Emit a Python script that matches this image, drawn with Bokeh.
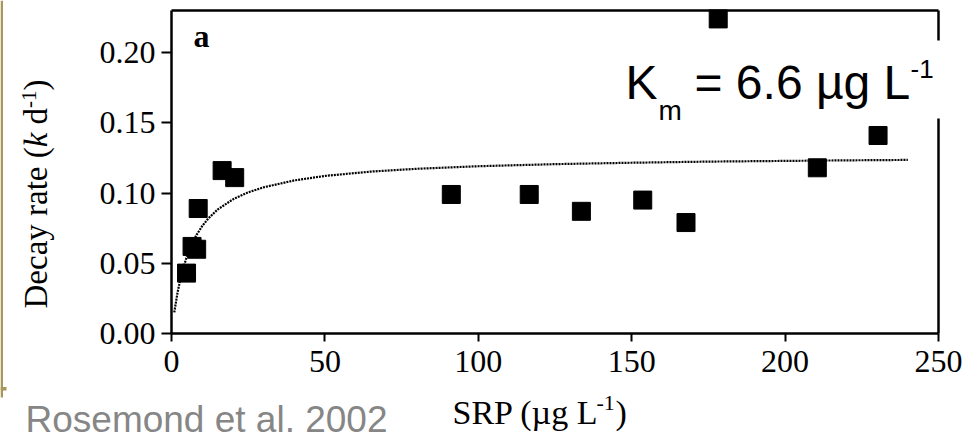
import math
from bokeh.plotting import figure
from bokeh.models import (FixedTicker, NumeralTickFormatter, Label, BoxAnnotation,
                          ColumnDataSource, LinearAxis)
from bokeh.embed import file_html
from bokeh.resources import INLINE

# ---- data ----
srp = [4.9, 6.7, 8.2, 8.7, 16.5, 20.6, 91.2, 116.6, 133.6, 153.6, 167.7, 178.2, 210.5, 230.3]
decay = [0.043, 0.062, 0.060, 0.089, 0.116, 0.111, 0.099, 0.099, 0.087, 0.095, 0.079, 0.224, 0.118, 0.141]

fit_x = [0.9, 2, 3, 4, 5, 6.5, 8, 10, 12, 15, 20, 25, 30, 40, 50, 65, 80, 100, 125, 150, 175, 200, 220, 240]
fit_y = [0.0150, 0.0295, 0.0397, 0.0479, 0.0547, 0.0630, 0.0696, 0.0765, 0.0819, 0.0882, 0.0955,
         0.1005, 0.1041, 0.1090, 0.1122, 0.1153, 0.1173, 0.1191, 0.1206, 0.1216, 0.1224, 0.1229,
         0.1233, 0.1236]

x_ticks = [0, 50, 100, 150, 200, 250]
y_ticks = [0.0, 0.05, 0.10, 0.15, 0.20]
XMAX, YMAX = 250.0, 0.23

# ---- layout (pixel positions of the chart box on the slide) ----
W, H = 969, 443
FL, FR, FT, FB = 171, 938, 10, 333

def X(px):
    return (px - FL) * XMAX / (FR - FL)

def Y(py):
    return (FB - py) * YMAX / (FB - FT)

p = figure(width=W, height=H, output_backend="svg", toolbar_location=None,
           x_range=(X(0), X(W)), y_range=(Y(H), Y(0)),
           x_axis_location=None, y_axis_location=None, min_border=0)
p.background_fill_color = "white"
p.border_fill_color = "white"
p.outline_line_color = None
p.xgrid.visible = False
p.ygrid.visible = False

serif = "Liberation Serif"
sans = "Liberation Sans"

def style_axis(ax, ticks, tick_out, standoff):
    ax.ticker = FixedTicker(ticks=ticks)
    ax.axis_line_width = 2.5
    ax.axis_line_color = "black"
    ax.major_tick_line_width = 2
    ax.major_tick_line_color = "black" if ticks else None
    ax.major_tick_in = 0
    ax.major_tick_out = tick_out
    ax.minor_tick_line_color = None
    ax.major_label_text_font = serif
    ax.major_label_text_font_size = "32px"
    ax.major_label_text_color = "black"
    ax.major_label_standoff = standoff

xax = LinearAxis(fixed_location=0, bounds=(0, XMAX))
style_axis(xax, x_ticks, 8, 9)
p.add_layout(xax, "below")

yax = LinearAxis(fixed_location=0, bounds=(0, YMAX))
style_axis(yax, y_ticks, 10, 6)
yax.formatter = NumeralTickFormatter(format="0.00")
p.add_layout(yax, "left")

# top and right edges of the chart box
tax = LinearAxis(fixed_location=YMAX, bounds=(0, XMAX))
style_axis(tax, [], 0, 0)
tax.major_label_text_font_size = "0px"
p.add_layout(tax, "above")
rax = LinearAxis(fixed_location=XMAX, bounds=(0, YMAX))
style_axis(rax, [], 0, 0)
rax.major_label_text_font_size = "0px"
p.add_layout(rax, "right")

# fitted curve (dotted) and points
p.line(fit_x, fit_y, line_color="black", line_width=2.2, line_dash="2 1")
src = ColumnDataSource(dict(x=srp, y=decay))
p.scatter("x", "y", source=src, marker="square", size=18, fill_color="black", line_color="black")

K_SHIFT = 0.37  # baseline correction (fraction of font size)

def lab(px, py, text, font, size, style="normal", rotated=False, color="black"):
    if rotated:
        px = px - K_SHIFT * size
        angle = math.pi / 2
    else:
        py = py - K_SHIFT * size
        angle = 0.0
    p.add_layout(Label(x=X(px), y=Y(py), text=text, text_font=font, text_font_size=f"{size}px",
                       text_font_style=style, text_color=color, angle=angle,
                       text_align="left", text_baseline="alphabetic"))

# panel letter
lab(193, 47, "a", serif, 32, style="bold")

# white box for the Km annotation (covers part of the chart box)
p.add_layout(BoxAnnotation(left=X(618), right=X(952), top=Y(40), bottom=Y(118),
                           fill_color="white", fill_alpha=1.0, line_color=None))

# Km = 6.6 µg L-1
lab(625, 100, "K", sans, 48)
lab(658, 120, "m", sans, 28)
lab(694, 100, "= 6.6 \u00b5g L", sans, 48)
lab(910, 78, "-1", sans, 26)

# y axis title (rotated, pieces)
lab(48, 308, "Decay rate (", serif, 33, rotated=True)
lab(48, 146.8, "k", serif, 33, style="italic", rotated=True)
lab(48, 123.9, "d", serif, 33, rotated=True)
lab(36, 107.4, "-1", serif, 21, rotated=True)
lab(48, 89.9, ")", serif, 33, rotated=True)

# x axis title
lab(452, 425, "SRP (\u00b5g L", serif, 34)
lab(596, 411, "-1", serif, 22)
lab(615, 425, ")", serif, 34)

# citation
lab(25, 433, "Rosemond et al. 2002", sans, 37, color="#868686")

# olive slide decoration at the left edge
p.add_layout(BoxAnnotation(left=X(0), right=X(2.5), top=Y(0), bottom=Y(397),
                           fill_color="#A8965A", fill_alpha=1.0, line_color=None))
p.add_layout(BoxAnnotation(left=X(0), right=X(6), top=Y(386.5), bottom=Y(390),
                           fill_color="#A8965A", fill_alpha=1.0, line_color=None))

open("out.html", "w").write(file_html(p, INLINE))
